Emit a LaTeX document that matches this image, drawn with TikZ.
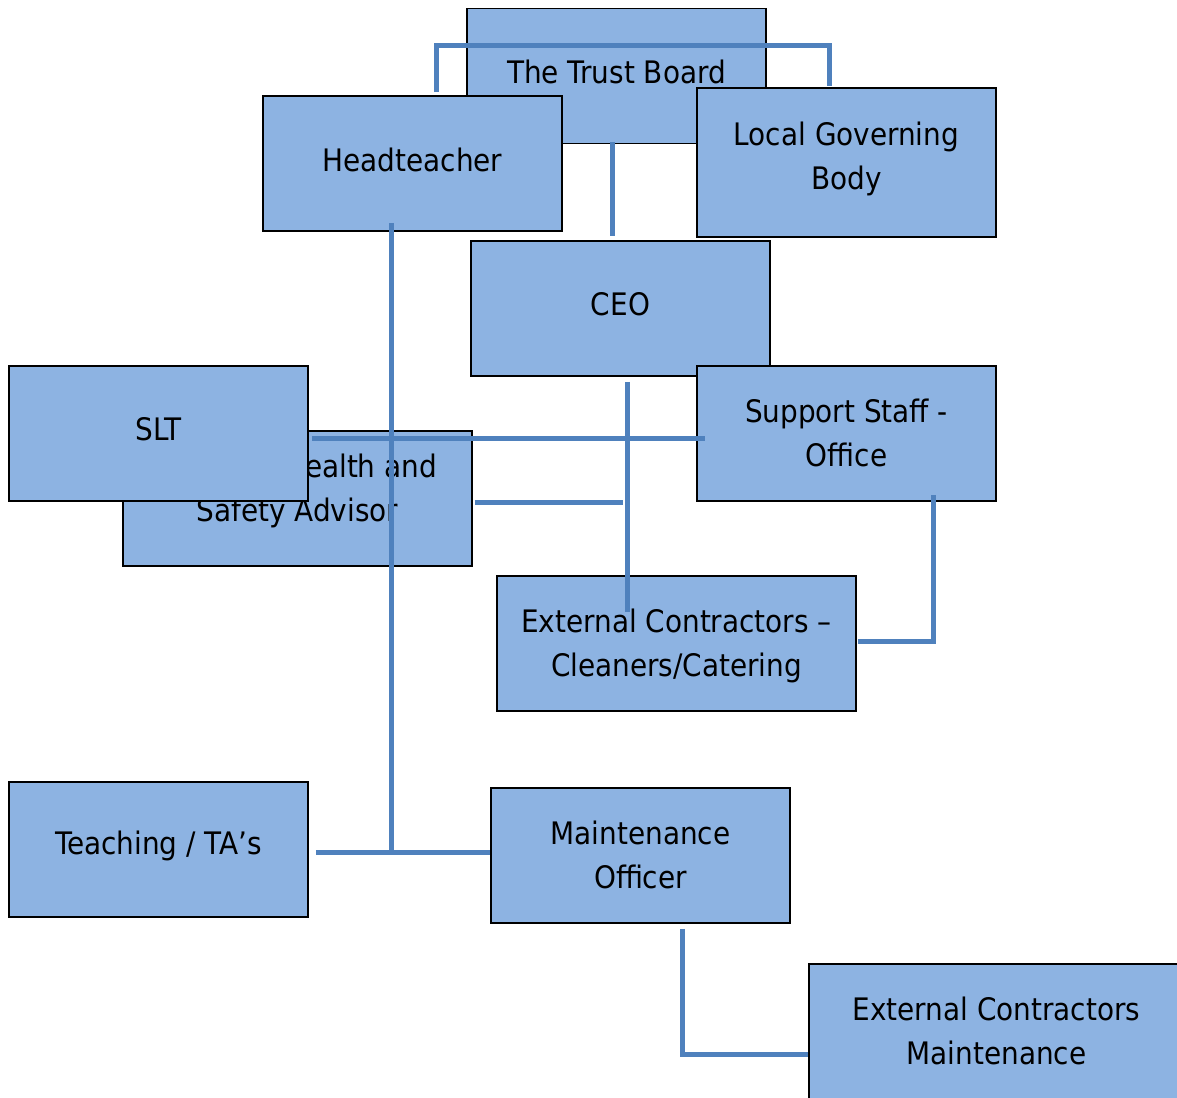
\documentclass[tikz,border=0pt]{standalone}
\usepackage{fontspec}
\setmainfont{DejaVu Sans Condensed}
\usetikzlibrary{calc}
\definecolor{boxfill}{HTML}{8DB3E2}
\definecolor{linkblue}{HTML}{4F81BD}

\begin{document}
\begin{tikzpicture}[x=1pt, y=-1pt,
    post/.style={rectangle, draw=black, line width=1.5pt, fill=boxfill, minimum width=299pt, minimum height=135pt, inner sep=0pt},
    tag/.style={align=center, inner sep=0pt, yshift=#1, font=\fontsize{31}{44}\selectfont},
    tag/.default=0pt,
    link/.style={draw=linkblue, line width=5pt}]
    \useasboundingbox (0,0) rectangle (1177,1097);

    \node[post, label={[tag=4pt]center:The Trust Board}] (trust) at (616.5,76) {};
    \node[post, label={[tag=4pt]center:Headteacher}] (head) at (412.5,163.5) {};
    \node[post, minimum height=149pt, label={[tag=4pt]center:Local Governing\\Body}] (lgb) at (846.5,162.5) {};
    \node[post, label={[tag=4pt]center:CEO}] (ceo) at (620.5,308.5) {};

    \node[post, minimum width=349pt, label={[tag=7.5pt]center:\hspace*{126pt}Health and\\Safety Advisor}] (hs) at (297.5,498.5) {};
    \node[post, label={[tag=4pt]center:SLT}] (slt) at (158.5,433.5) {};
    \node[post, label={[tag=1pt]center:Support Staff -\\Office}] (support) at (846.5,433.5) {};
    \node[post, minimum width=359pt, label={[tag=-2pt]center:External Contractors --\\Cleaners/Catering}] (extcc) at (676.5,643.5) {};

    \node[post, label={[tag=4pt]center:Teaching / TA’s}] (teach) at (158.5,849.5) {};
    \node[post, label={[tag=1pt]center:Maintenance\\Officer}] (maint) at (640.5,855.5) {};
    \node[post, minimum width=375pt, label={[tag=1pt]center:External Contractors\\Maintenance}] (extm) at (996.5,1031.5) {};

    \draw[link] ($(head.north)+(24,-3)$) |- ($(trust.north)+(0,38)$) -| ($(lgb.north)+(-17.5,-1.5)$);
    \draw[link] ($(trust.south)+(-4,-2)$) -- ($(ceo.north)+(-8,-4)$);

    \draw[link] ($(head.south)+(-21.5,-9)$) coordinate (h1) -- ($(h1 |- teach.east)+(0,2.5)$);
    \draw[link] ($(teach.east)+(7,2.5)$) -- ($(maint.west |- teach.east)+(0,2.5)$);

    \draw[link] ($(slt.east)+(3,5)$) -- ($(support.west)+(9,5)$);
    \draw[link] ($(ceo.south)+(6.5,5)$) coordinate (c1) -- ($(extcc.north)+(-49.5,37)$);
    \draw[link] ($(hs.east)+(2,4)$) -- ($(hs.east -| c1)+(-4,4)$);
    \draw[link] ($(support.south)+(86.5,-7)$) |- ($(extcc.east)+(1,-2.5)$);

    \draw[link] ($(maint.south)+(42,5)$) |- ($(extm.west)+(0,22.5)$);
\end{tikzpicture}
\end{document}
